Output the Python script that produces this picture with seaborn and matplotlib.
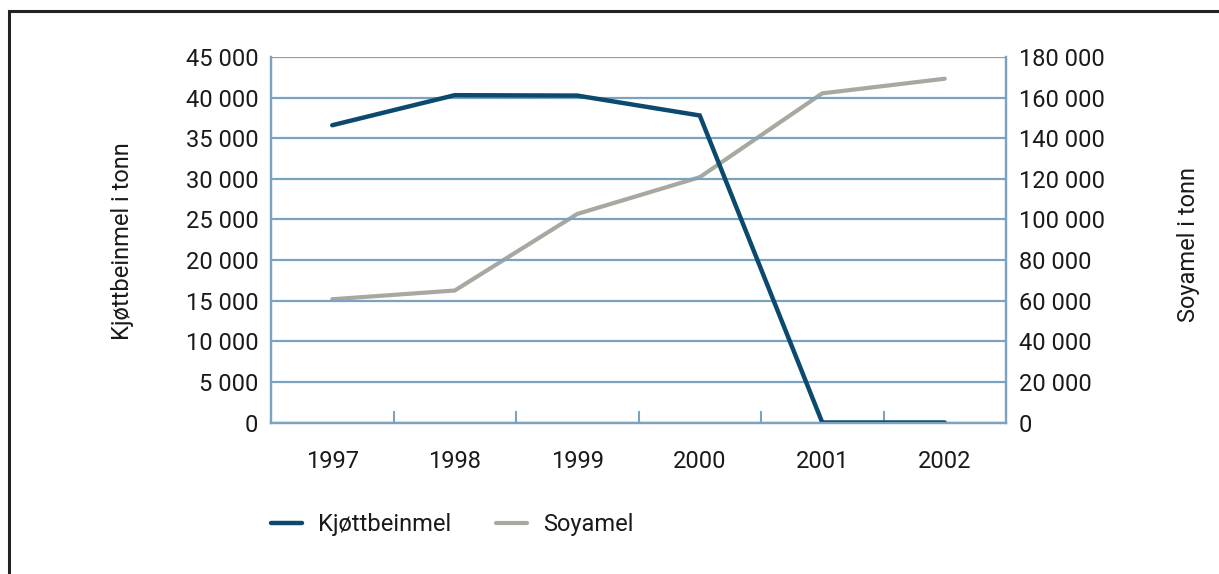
import matplotlib
matplotlib.use("Agg")
import matplotlib.pyplot as plt
from matplotlib.patches import Rectangle
from matplotlib.ticker import FuncFormatter, FixedLocator
import seaborn as sns
import pandas as pd

years = ["1997", "1998", "1999", "2000", "2001", "2002"]
kjottbeinmel = [36600, 40300, 40250, 37800, 0, 0]
soyamel = [60700, 65000, 102700, 120800, 162100, 169300]

navy = "#0b4a6e"
grey = "#a7a89f"
grid_blue = "#7aa3c1"
text_col = "#1a1a1a"
fs = 17

sns.set_theme(style="white")
plt.rcParams['font.family'] = ['Roboto', 'DejaVu Sans']
plt.rcParams['text.color'] = text_col
plt.rcParams['axes.labelcolor'] = text_col
plt.rcParams['xtick.color'] = text_col
plt.rcParams['ytick.color'] = text_col

df = pd.DataFrame({"year": years, "Kjøttbeinmel": kjottbeinmel, "Soyamel": soyamel})

fig = plt.figure(figsize=(12.19, 5.74), dpi=100)
ax = fig.add_axes([271 / 1219, 1 - 422.5 / 574, 735 / 1219, 365.5 / 574])
ax2 = ax.twinx()

sns.lineplot(data=df, x="year", y="Kjøttbeinmel", ax=ax, color=navy, linewidth=3.2,
             sort=False, solid_capstyle="round", solid_joinstyle="miter", label="Kjøttbeinmel", legend=False)
sns.lineplot(data=df, x="year", y="Soyamel", ax=ax2, color=grey, linewidth=3,
             sort=False, solid_capstyle="round", label="Soyamel", legend=False)
ax2.set_zorder(1)
ax.set_zorder(2)
ax.patch.set_visible(False)

fmt = FuncFormatter(lambda v, p: f"{int(v):,}".replace(",", " "))

ax.set_xlim(-0.5, len(years) - 0.5)
ax.set_ylim(0, 45000)
ax.set_yticks(range(0, 45001, 5000))
ax.yaxis.set_major_formatter(fmt)
ax2.set_ylim(0, 180000)
ax2.set_yticks(range(0, 180001, 20000))
ax2.yaxis.set_major_formatter(fmt)

ax.grid(axis="y", color=grid_blue, linewidth=1.6)
ax.set_axisbelow(True)
ax.xaxis.set_minor_locator(FixedLocator([i + 0.5 for i in range(len(years) - 1)]))
ax.tick_params(axis="x", which="major", bottom=False, length=0, pad=20, labelsize=fs)
ax.tick_params(axis="x", which="minor", bottom=True, direction="in", length=9, width=1.5, color=grid_blue)
ax.tick_params(axis="y", length=0, pad=9, labelsize=fs)
ax2.tick_params(axis="y", length=0, pad=9, labelsize=fs)

for a in (ax, ax2):
    for s in a.spines.values():
        s.set_color(grid_blue)
        s.set_linewidth(1.6)
    a.spines["top"].set_visible(False)

ax.set_xlabel("")
ax.set_ylabel("")
ax2.set_ylabel("")
fig.text(122 / 1219, 1 - 241 / 574, "Kjøttbeinmel i tonn", rotation=90, ha="center", va="center", fontsize=fs)
fig.text(1188 / 1219, 1 - 245 / 574, "Soyamel i tonn", rotation=90, ha="center", va="center", fontsize=fs)

h1, l1 = ax.get_legend_handles_labels()
h2, l2 = ax2.get_legend_handles_labels()
fig.legend(h1 + h2, l1 + l2, loc="center left", bbox_to_anchor=(271 / 1219, 1 - 525 / 574),
           ncol=2, frameon=False, fontsize=fs, handlelength=1.3, handletextpad=0.7,
           columnspacing=1.9, borderpad=0, borderaxespad=0)

fig.patches.append(Rectangle((9 / 1219, -1), 2, 1 + (1 - 10.5 / 574), transform=fig.transFigure,
                             fill=False, edgecolor="#222222", linewidth=2.2))

fig.savefig("out.png", dpi=100)
plt.close(fig)
